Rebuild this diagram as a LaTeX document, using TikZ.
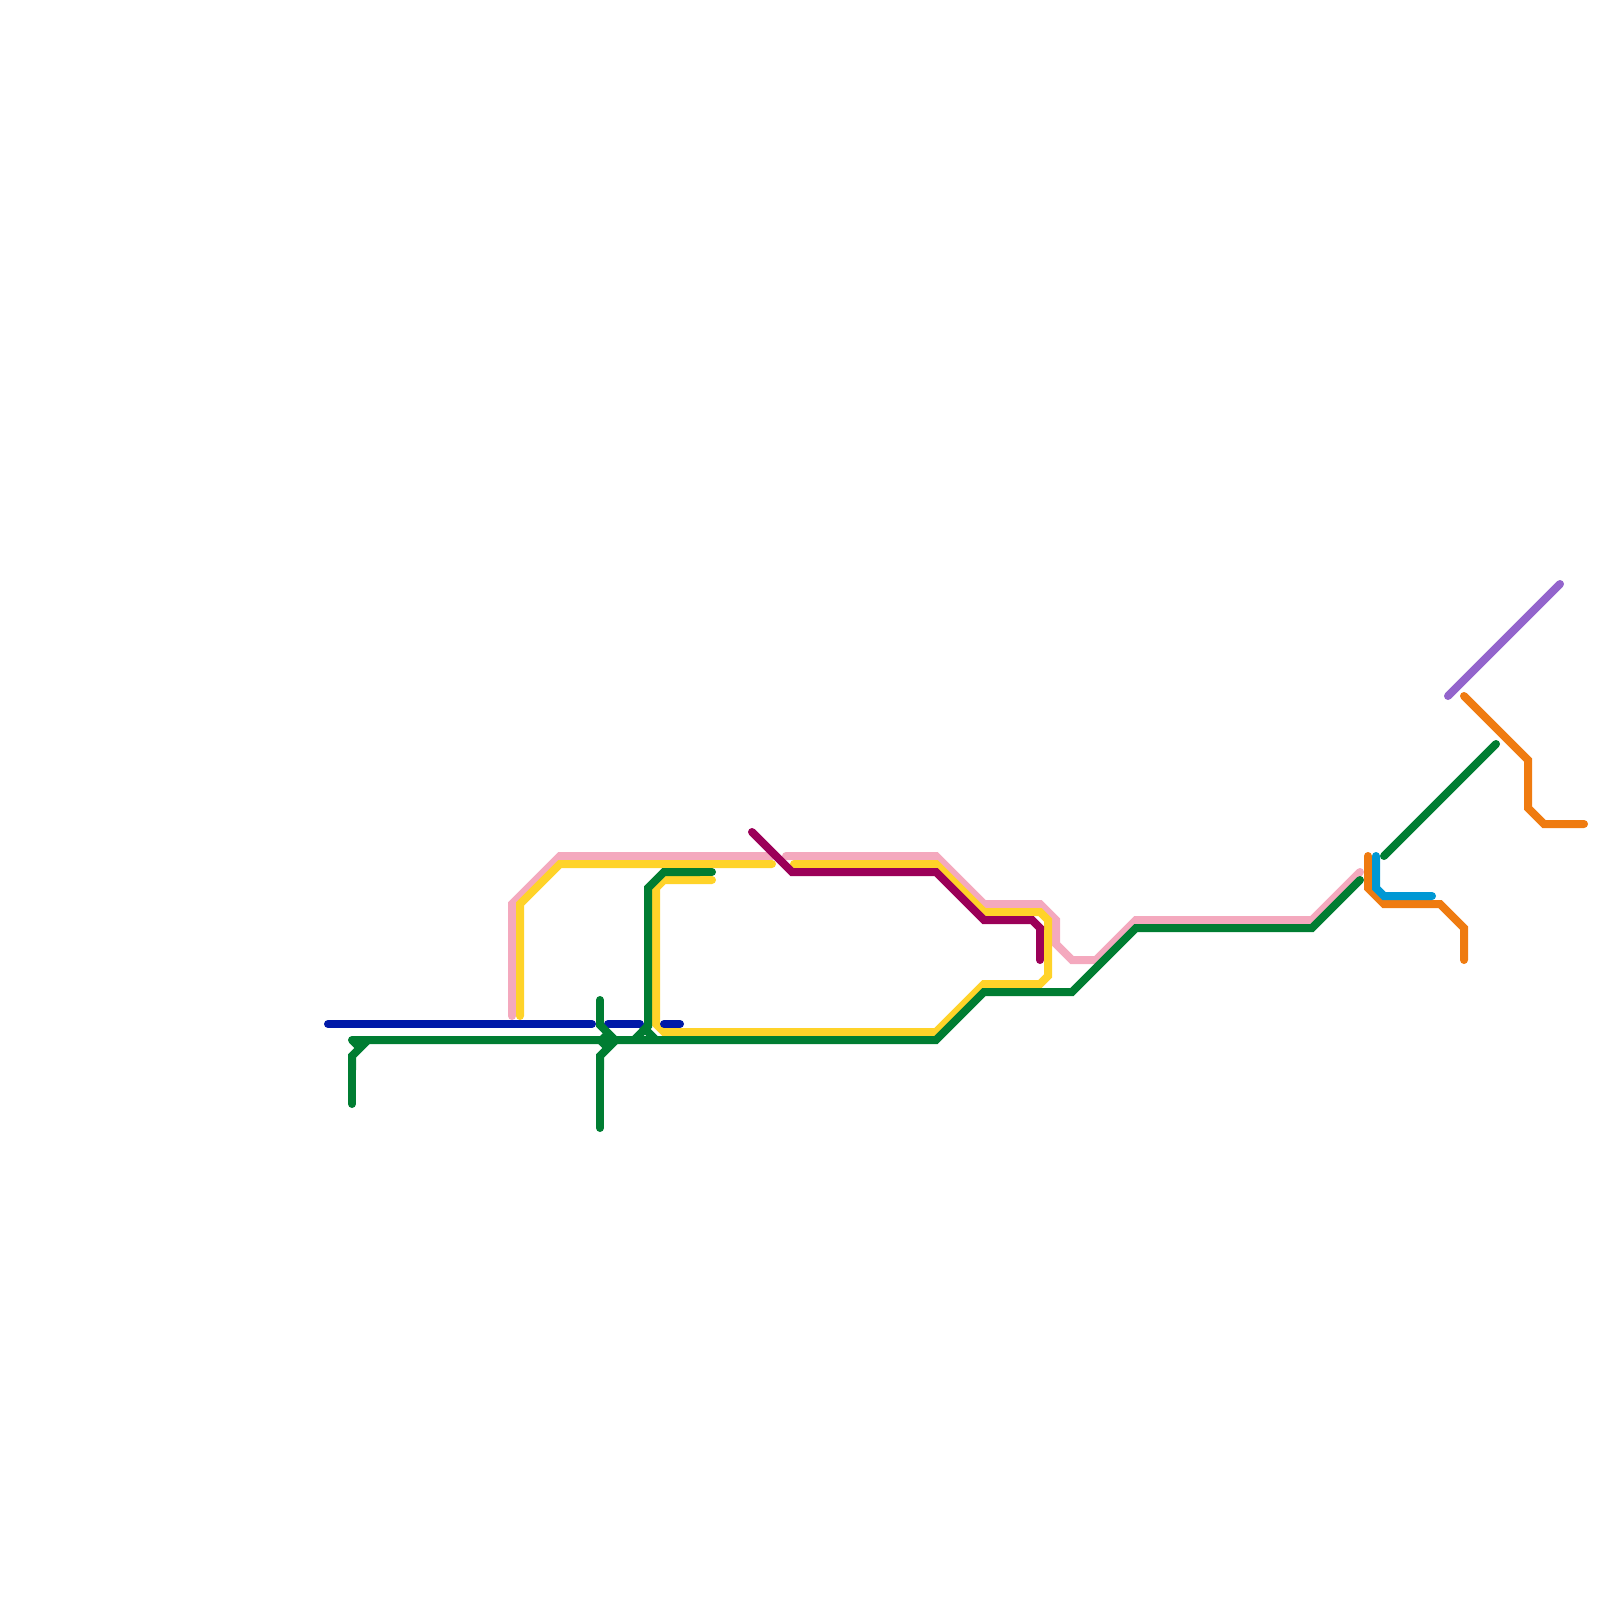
\documentclass[tikz,border=0pt]{standalone}
\definecolor{linepink}{HTML}{F4A9BE}
\definecolor{lineyellow}{HTML}{FFD329}
\definecolor{linegreen}{HTML}{007D32}
\definecolor{lineblue}{HTML}{0019A8}
\definecolor{linecrimson}{HTML}{9B0058}
\definecolor{lineorange}{HTML}{EF7B10}
\definecolor{linesky}{HTML}{0098D4}
\definecolor{linepurple}{HTML}{9364CC}
\tikzset{
  route/.style={line width=8pt,line cap=round,line join=miter,miter limit=4},
  pinkroute/.style={route,draw=linepink},
  yellowroute/.style={route,draw=lineyellow},
  greenroute/.style={route,draw=linegreen},
  blueroute/.style={route,draw=lineblue},
  crimsonroute/.style={route,draw=linecrimson},
  orangeroute/.style={route,draw=lineorange},
  skyroute/.style={route,draw=linesky},
  purpleroute/.style={route,draw=linepurple}
}
\begin{document}
\begin{tikzpicture}[x=1pt,y=-1pt]
\useasboundingbox (0,0) rectangle (1600,1600);
% pink
\draw[pinkroute] (512,1016) -- (512,904) -- (560,856) -- (772,856);
\draw[pinkroute] (786,856) -- (936,856) -- (984,904) -- (1040,904) -- (1056,920) -- (1056,944) -- (1072,960) -- (1096,960) -- (1136,920) -- (1312,920) -- (1360,872);
% yellow
\draw[yellowroute] (520,1016) -- (520,904) -- (560,864) -- (772,864);
\draw[yellowroute] (794,864) -- (936,864) -- (984,912) -- (1040,912) -- (1048,920) -- (1048,976) -- (1040,984) -- (984,984) -- (936,1032) -- (664,1032) -- (656,1024) -- (656,888) -- (664,880) -- (712,880);
% crimson
\draw[crimsonroute] (752,832) -- (792,872) -- (936,872) -- (984,920) -- (1032,920) -- (1040,928) -- (1040,960);
% re-lay yellow over the crimson stub
\draw[yellowroute,line cap=butt] (1048,930) -- (1048,966);
% deep blue
\draw[blueroute] (328,1024) -- (592,1024);
\draw[blueroute] (608,1024) -- (640,1024);
\draw[blueroute] (664,1024) -- (680,1024);
% green
\draw[greenroute] (352,1040) -- (936,1040) -- (984,992) -- (1072,992) -- (1136,928) -- (1312,928) -- (1360,880);
\draw[greenroute,line cap=butt] (352,1070) -- (352,1056) -- (368,1040);
\draw[greenroute] (352,1104) -- (352,1060);
\draw[greenroute,line cap=butt] (352,1040) -- (360,1048);
% junction at x=600
\draw[greenroute] (600,1000) -- (600,1022);
\draw[greenroute,line cap=butt] (600,1020) -- (600,1025) -- (615,1040);
\draw[greenroute,line cap=butt] (600,1070) -- (600,1056) -- (616,1040);
\draw[greenroute] (600,1128) -- (600,1060);
\draw[greenroute,line cap=butt] (600,1040) -- (608,1048);
\draw[greenroute,line cap=butt] (602,1034) -- (610,1042);
% branch at x=648
\draw[greenroute,line cap=butt] (634,1040) -- (648,1026) -- (648,888) -- (664,872) -- (700,872);
\draw[greenroute] (712,872) -- (690,872);
\draw[greenroute,line cap=butt] (642,1026) -- (656,1040);
\draw[greenroute] (1384,856) -- (1496,744);
% orange
\draw[orangeroute] (1368,856) -- (1368,888) -- (1384,904) -- (1440,904) -- (1464,928) -- (1464,960);
\draw[orangeroute] (1464,696) -- (1528,760) -- (1528,808) -- (1544,824) -- (1584,824);
% sky
\draw[skyroute] (1376,856) -- (1376,888) -- (1384,896) -- (1432,896);
% purple
\draw[purpleroute] (1448,696) -- (1560,584);
\end{tikzpicture}
\end{document}
